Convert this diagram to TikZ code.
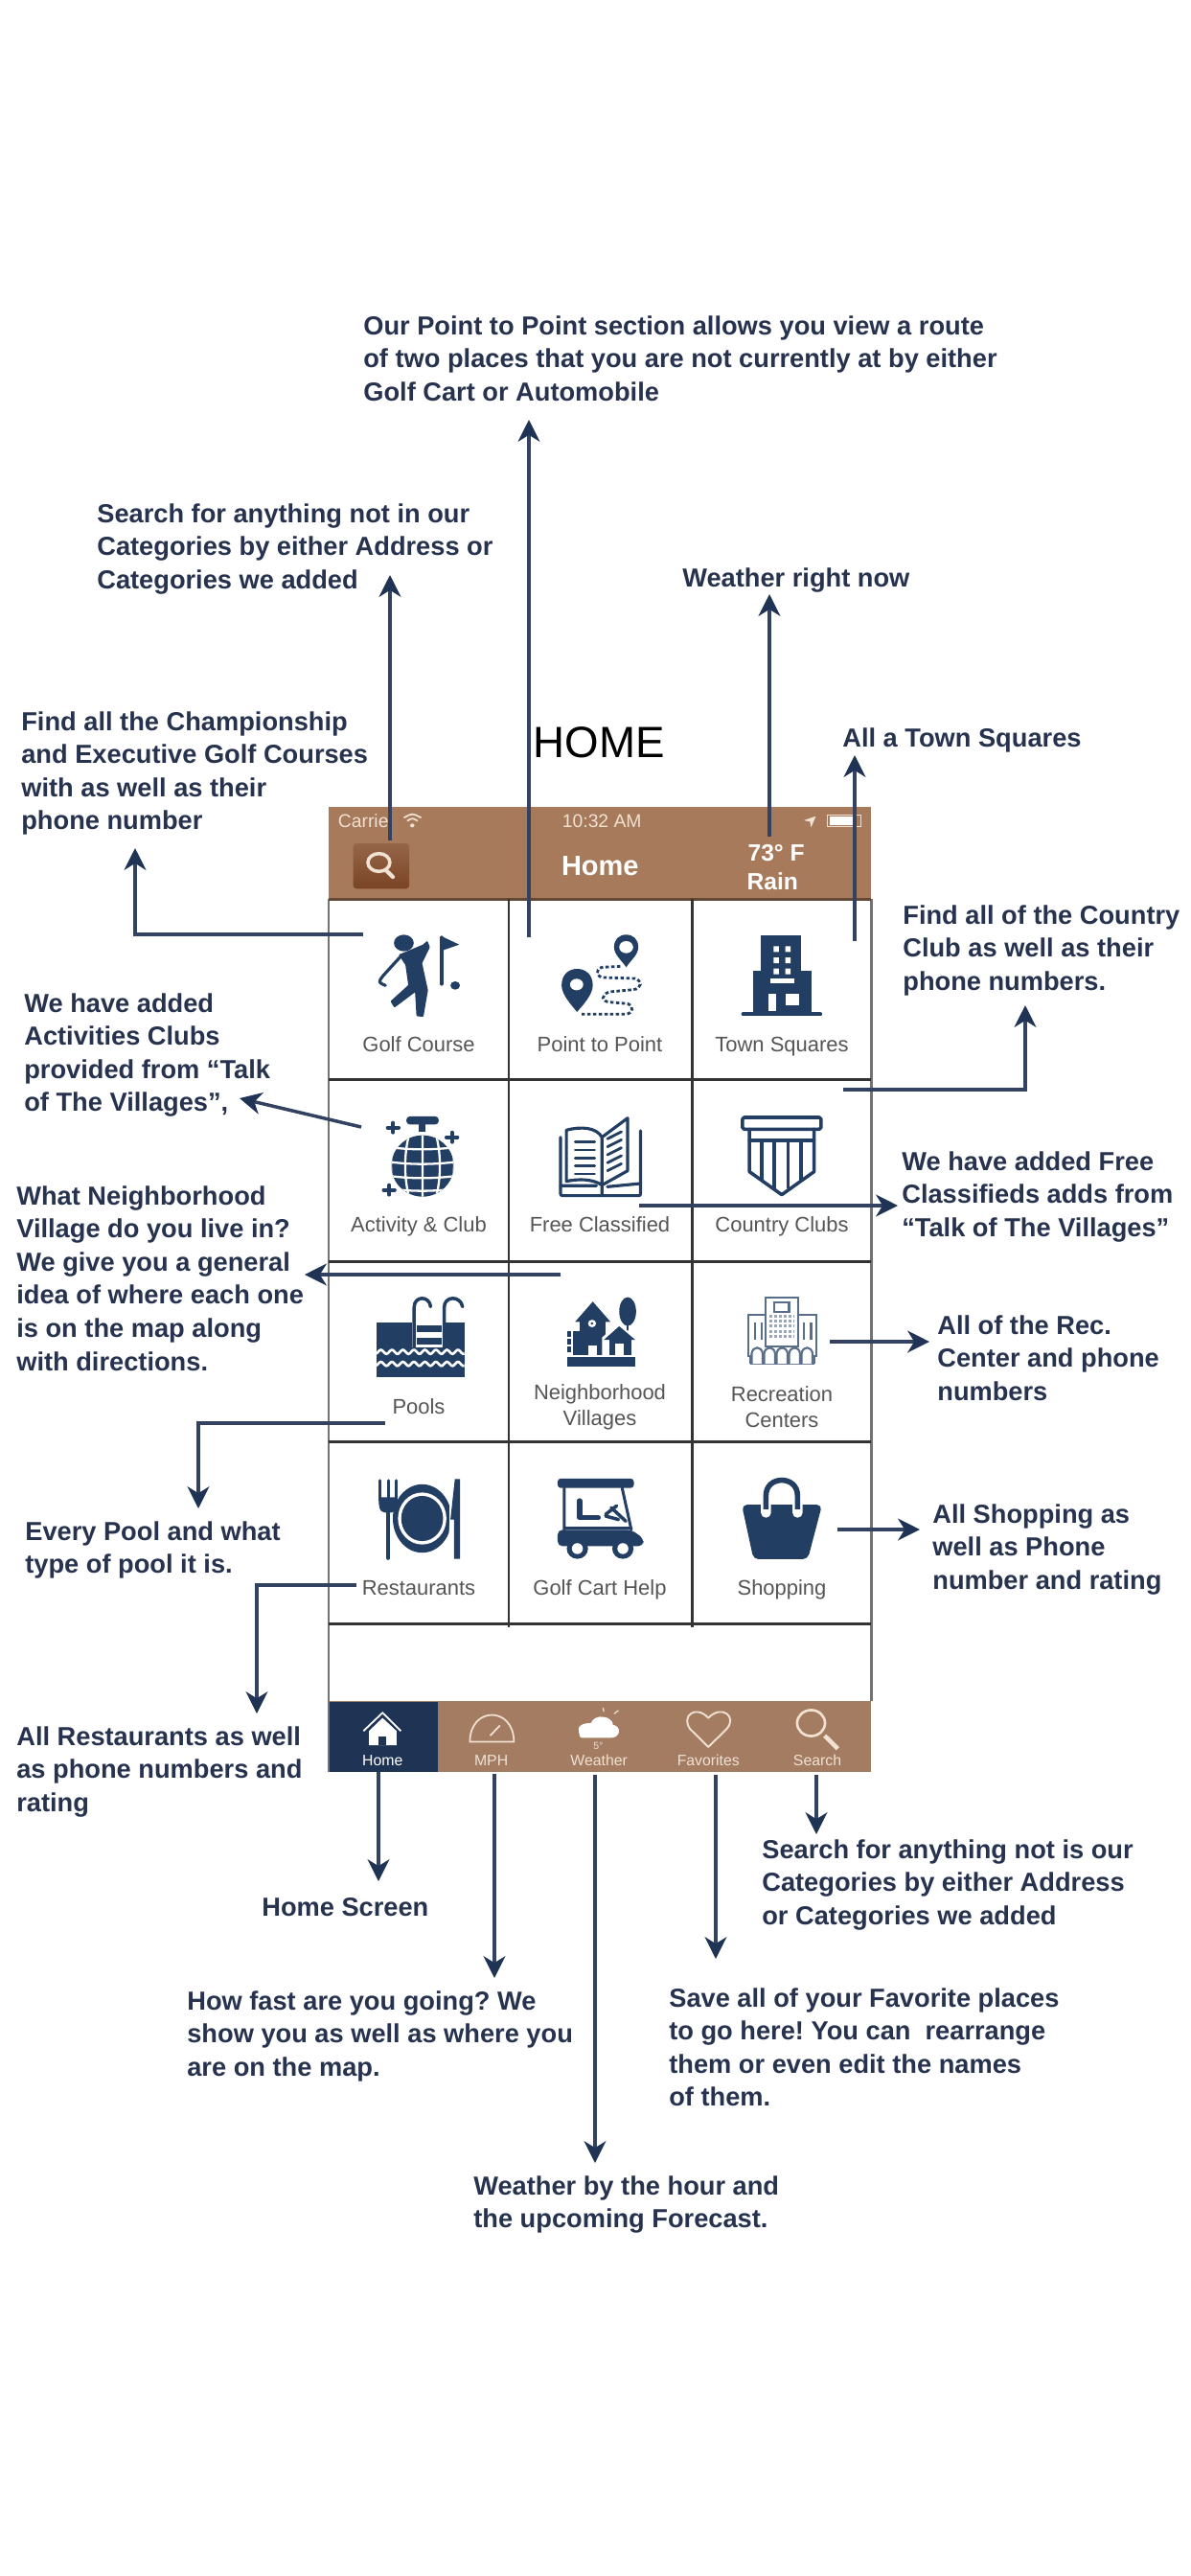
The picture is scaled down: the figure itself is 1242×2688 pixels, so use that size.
\documentclass[tikz,border=0pt]{standalone}
\usepackage{fontspec}
\setmainfont{Liberation Sans}
\usetikzlibrary{arrows.meta}
\definecolor{inkblue}{RGB}{31,51,84}
\definecolor{shaftblue}{RGB}{50,66,96}
\definecolor{iconblue}{RGB}{34,62,98}
\definecolor{notetext}{RGB}{38,50,78}
\definecolor{barbrown}{RGB}{166,122,90}
\definecolor{tabbrown}{RGB}{163,124,98}
\definecolor{buttontop}{RGB}{150,102,72}
\definecolor{buttonlow}{RGB}{122,68,38}
\definecolor{celllabel}{RGB}{85,85,85}
\definecolor{paletan}{RGB}{240,225,210}
\tikzset{
  pointer/.style={line width=2pt,draw=shaftblue,-{Stealth[length=13pt,width=13pt,inset=4pt,color=inkblue]}},
  note/.style={anchor=north west,inner sep=0pt,align=left,text=notetext,font=\bfseries\fontsize{15.5}{19.7}\selectfont},
  cellname/.style={inner sep=0pt,align=center,text=celllabel,font=\fontsize{12.5}{15.5}\selectfont},
  barname/.style={inner sep=0pt,text=white,font=\fontsize{#1}{#1}\selectfont},
  tabname/.style={inner sep=0pt,text=paletan,font=\fontsize{9}{9}\selectfont},
  gridline/.style={line width=1.7pt,draw=black!80},
  zoomtop/.style={shift={(320,820)},x=0.007654cm,y=-0.006667cm},
  zoomlow/.style={shift={(320,1300)},x=0.007654cm,y=-0.007143cm},
  iconline/.style={draw=iconblue,line width=#1,line cap=round,line join=round},
  iconline/.default=2pt
}
\begin{document}
\frenchspacing
\begin{tikzpicture}[x=0.02cm,y=-0.02cm]
\useasboundingbox (0,0) rectangle (1242,2688);
\fill[white] (0,0) rectangle (1242,2688);
% The phone
\fill[barbrown] (343,842) rectangle (909,938);
\fill[tabbrown] (343,1775) rectangle (909,1849);
\fill[inkblue] (343,1776) rectangle (457,1849);
\draw[line width=1.7pt,draw=black!55] (343,938) -- (343,1849) (909,938) -- (909,1775);
\draw[line width=1.7pt,draw=barbrown!60!black] (343,938) -- (909,938);
\foreach \rowy in {1126,1316,1504,1694}
  \draw[gridline] (343,\rowy) -- (909,\rowy);
\foreach \colx in {531,722}
  \draw[gridline] (\colx,938) -- (\colx,1698);
% Header
\begin{scope}[zoomtop]
\shade[top color=buttontop,bottom color=buttonlow,rounded corners=2pt] (127,180) rectangle (280,322);
\draw[paletan,line width=2pt] (197,240) circle[x radius=30,y radius=28];
\draw[paletan,line width=2.4pt,line cap=round] (216,264) -- (235,285);
\node[barname=11,text=paletan,anchor=west] (carrier) at (85,110) {Carrie};
\node[barname=11,text=paletan] (clock) at (805,110) {10:32 AM};
\node[barname=16,font=\bfseries\fontsize{16.5}{16.5}\selectfont] (homebar) at (800,250) {Home};
\node[barname=13.5,font=\bfseries\fontsize{14}{14}\selectfont] (temp) at (1280,210) {73° F};
\node[barname=13.5,font=\bfseries\fontsize{14}{14}\selectfont] (rain) at (1270,300) {Rain};
\draw[paletan,line width=1pt] (265,100) .. controls (288,85) .. (312,100) (274,110) .. controls (288,100) .. (303,110);
\fill[paletan] (288,124) circle[radius=6];
\fill[paletan] (1355,108) -- (1388,95) -- (1375,130) -- (1372,112) -- cycle;
\draw[paletan,line width=.8pt] (1420,92) rectangle (1510,128);
\fill[white] (1425,96) rectangle (1490,124);
\end{scope}
% Row one icons
\begin{scope}[zoomtop]
\fill[iconblue] (265,492) circle[x radius=27,y radius=26];
\filldraw[iconblue,line width=1.2pt,line join=round] (255,530) -- (318,500) -- (328,490) -- (333,505) -- (312,555) -- (328,640) -- (316,720) -- (302,718) -- (298,640) -- (240,690) -- (232,675) -- (280,625) -- (272,560) -- cycle;
\draw[iconline=1.8pt] (258,532) -- (208,595) .. controls (195,615) .. (215,625);
\draw[iconline=2.2pt] (368,475) -- (368,620);
\fill[iconblue] (366,470) -- (416,497) -- (366,517) -- cycle;
\fill[iconblue] (405,625) circle[radius=13];
% Point to point
\fill[iconblue] (695,625) .. controls (695,590) and (715,573) .. (737,573) .. controls (760,573) and (780,590) .. (780,625) .. controls (780,655) and (750,690) .. (737,708) .. controls (725,690) and (695,655) .. (695,625) -- cycle;
\fill[white] (736,622) circle[radius=18];
\fill[iconblue] (838,505) .. controls (838,480) and (852,466) .. (871,466) .. controls (890,466) and (904,480) .. (904,505) .. controls (904,530) and (880,550) .. (871,568) .. controls (862,550) and (838,530) .. (838,505) -- cycle;
\fill[white] (871,505) circle[radius=19];
\draw[iconblue,line width=1.6pt,dash pattern=on 2pt off 1.4pt] (855,565) -- (805,568) .. controls (785,575) and (790,600) .. (810,600) -- (895,603) .. controls (915,610) and (915,635) .. (890,638) -- (825,645) .. controls (800,655) and (805,675) .. (825,677) -- (875,682) .. controls (893,690) and (890,712) .. (870,715) -- (750,715);
% Town squares
\fill[iconblue] (1237,468) rectangle (1347,600);
\fill[iconblue] (1217,580) rectangle (1375,715);
\draw[iconline=2.4pt] (1190,715) -- (1400,715);
\foreach \winy in {502,537,572}
  \fill[white] (1273,\winy) rectangle (1287,\winy+18) (1305,\winy) rectangle (1319,\winy+18);
\fill[white] (1265,603) rectangle (1330,618);
\fill[white] (1258,650) rectangle (1280,705);
\fill[white] (1305,650) rectangle (1342,688);
\end{scope}
% Row two icons
\begin{scope}[zoomtop]
\fill[iconblue,rounded corners=2pt] (272,1035) rectangle (360,1060);
\fill[iconblue] (306,1060) rectangle (325,1082);
\begin{scope}
\clip (316,1190) circle[x radius=85,y radius=96];
\fill[iconblue] (230,1090) rectangle (402,1290);
\foreach \laty in {1132,1178,1222,1262}
  \draw[white,line width=1.3pt] (230,\laty) .. controls (290,\laty+8) and (340,\laty+8) .. (402,\laty);
\draw[white,line width=1.3pt] (316,1090) -- (316,1290) (280,1090) .. controls (265,1150) and (265,1230) .. (280,1290) (352,1090) .. controls (367,1150) and (367,1230) .. (352,1290);
\draw[white,line width=1.3pt] (245,1090) .. controls (225,1150) and (225,1230) .. (245,1290) (387,1090) .. controls (407,1150) and (407,1230) .. (387,1290);
\end{scope}
\foreach \spx/\spy in {236/1070,396/1100,225/1265}
  \draw[iconline=2.2pt] (\spx-15,\spy) -- (\spx+15,\spy) (\spx,\spy-15) -- (\spx,\spy+15);
% Free classified
\draw[iconline=1.8pt] (708,1078) .. controls (750,1065) and (790,1070) .. (805,1100) -- (805,1250) .. controls (780,1230) and (740,1230) .. (708,1238) -- cycle;
\draw[iconline=1.8pt] (805,1100) -- (875,1040) -- (875,1205) -- (805,1250);
\draw[iconline=1.8pt] (692,1100) -- (692,1270) .. controls (692,1283) .. (705,1283) -- (900,1283) .. controls (910,1283) .. (910,1270) -- (910,1080);
\draw[iconline=1.8pt] (692,1252) -- (790,1252) (805,1255) -- (805,1283) (820,1255) -- (910,1245);
\foreach \liney in {1115,1140,1165,1190,1215}
  \draw[iconline=1.6pt] (732,\liney) -- (785,\liney);
\foreach \liney in {1105,1130,1155,1180,1205}
  \draw[iconline=1.6pt] (820,\liney) -- (858,\liney-22);
% Country clubs
\draw[iconline=2pt,rounded corners=1pt] (1188,1038) rectangle (1402,1075);
\draw[iconline=2pt] (1207,1075) -- (1207,1208) -- (1295,1280) -- (1383,1208) -- (1383,1075);
\draw[iconline=2pt] (1207,1110) -- (1383,1110);
\foreach \fluteX/\fluteY in {1240/1232,1274/1258,1312/1258,1348/1232}
  \draw[iconline=2pt] (\fluteX,1110) -- (\fluteX,\fluteY);
\end{scope}
% Row three icons
\begin{scope}[zoomlow]
\fill[iconblue] (190,225) rectangle (430,385);
\fill[white] (288,222) rectangle (378,298);
\foreach \stepy in {232,268}
  \fill[iconblue] (300,\stepy) rectangle (368,\stepy+20);
\draw[iconline=2pt] (293,300) -- (293,180) .. controls (293,145) and (335,145) .. (338,178);
\draw[iconline=2pt] (375,300) -- (375,180) .. controls (375,145) and (420,145) .. (425,178);
\foreach \wavey in {310,345}
  \draw[white,line width=1.5pt] plot[domain=190:430,samples=61,smooth] (\x,{\wavey+6*sin(\x*12)});
% Neighborhood
\fill[iconblue] (710,325) rectangle (896,352);
\fill[iconblue] (732,222) -- (780,163) -- (828,222) -- cycle;
\fill[iconblue] (745,215) rectangle (815,318);
\fill[white] (778,227) circle[radius=11];
\fill[iconblue] (778,227) circle[radius=4];
\fill[iconblue] (725,250) rectangle (745,318);
\foreach \stepy in {250,272,294}
  \fill[iconblue] (710,\stepy) rectangle (722,\stepy+16);
\fill[white] (768,292) rectangle (792,318);
\fill[white] (805,268) -- (852,225) -- (900,268) -- (900,322) -- (805,322) -- cycle;
\fill[iconblue] (810,275) -- (852,235) -- (896,275) -- cycle;
\fill[iconblue] (825,270) rectangle (885,318);
\fill[white] (840,285) rectangle (864,318);
\fill[iconblue] (875,192) circle[x radius=23,y radius=42];
\draw[iconline=1.3pt] (875,225) -- (875,245);
% Recreation
\draw[iconblue!75,line width=1.2pt,fill=white] (1203,202) rectangle (1390,322);
\draw[iconblue!75,line width=1.2pt,fill=white] (1250,150) rectangle (1340,295);
\draw[iconblue!75,line width=1.2pt] (1275,165) rectangle (1315,192);
\foreach \gridy in {205,220,235,250,265}
  \draw[iconblue!45,line width=1.6pt,dash pattern=on 1.6pt off 1.2pt] (1262,\gridy) -- (1330,\gridy);
\foreach \sidex in {1222,1240,1355,1375}
  \draw[iconblue!75,line width=1.2pt] (\sidex,225) -- (\sidex,275);
\draw[iconblue!75,line width=1.2pt] (1208,345) -- (1384,345) (1208,322) -- (1208,345) (1384,322) -- (1384,345);
\foreach \archx in {1228,1262,1296,1330,1364}
  \draw[iconblue!75,line width=1.2pt,fill=white] (\archx-15,345) -- (\archx-15,315) .. controls (\archx-12,292) and (\archx+12,292) .. (\archx+15,315) -- (\archx+15,345);
\end{scope}
% Row four icons
\begin{scope}[zoomlow]
\foreach \tinex in {201,222,243}
  \draw[iconline=1.7pt] (\tinex,686) -- (\tinex,745);
\fill[iconblue] (197,735) -- (248,735) -- (248,755) .. controls (245,775) .. (230,780) -- (214,780) .. controls (200,775) .. (197,755) -- cycle;
\draw[iconline=2.6pt] (222,775) -- (222,912);
\fill[iconblue] (315,797) circle[x radius=80,y radius=100];
\fill[white] (315,797) circle[x radius=66,y radius=76];
\fill[iconblue] (315,797) circle[x radius=57,y radius=66];
\fill[white] (388,690) rectangle (400,905);
\fill[white] (390,798) -- (404,798) -- (404,905) -- (385,905) -- cycle;
\fill[iconblue] (404,682) -- (418,682) -- (418,915) -- (402,915) -- (402,800) -- (392,800) -- cycle;
% Golf cart
\fill[iconblue,rounded corners=2pt] (684,680) rectangle (892,708);
\draw[iconline=1.7pt] (702,708) -- (702,830) (860,708) -- (885,830) (702,825) -- (885,825);
\fill[iconblue,rounded corners=3pt] (684,830) -- (885,830) -- (918,855) -- (918,878) -- (684,878) -- cycle;
\foreach \wheelx in {738,862} {
  \fill[iconblue] (\wheelx,885) circle[x radius=29,y radius=30];
  \fill[white] (\wheelx,885) circle[x radius=15,y radius=16];
}
\draw[iconline=3pt] (744,745) -- (744,795) -- (795,795);
\draw[iconline=2pt] (815,785) -- (845,760) (830,765) -- (870,805) (815,790) -- (850,800);
% Shopping
\fill[iconblue,rounded corners=3pt] (1186,757) -- (1405,757) -- (1366,916) -- (1218,916) -- cycle;
\draw[white,line width=6pt,line cap=round] (1252,780) -- (1252,730) .. controls (1252,670) and (1338,670) .. (1338,730) -- (1338,780);
\draw[iconline=3.2pt,line cap=butt] (1252,770) -- (1252,730) .. controls (1252,670) and (1338,670) .. (1338,730) -- (1338,770);
\end{scope}
% Tab bar icons
\begin{scope}[zoomlow]
\draw[white,line width=1pt] (155,1418) -- (207,1365) -- (257,1418);
\fill[white] (207,1380) -- (245,1418) -- (245,1460) -- (170,1460) -- (170,1418) -- cycle;
\fill[inkblue] (195,1435) rectangle (218,1460);
\draw[paletan,line width=1pt] (445,1450) .. controls (445,1345) and (565,1345) .. (565,1450) -- cycle;
\draw[paletan,line width=1pt] (500,1432) -- (527,1402);
\fill[white] (742,1420) .. controls (735,1395) and (770,1395) .. (775,1395) .. controls (785,1365) and (835,1375) .. (835,1400) .. controls (860,1405) and (855,1438) .. (830,1438) -- (755,1438) .. controls (745,1438) .. (742,1420) -- cycle;
\draw[paletan,line width=.7pt] (838,1368) -- (850,1358) (810,1362) -- (808,1350);
\draw[paletan,line width=1.1pt,line join=round] (1095,1465) -- (1045,1412) .. controls (1020,1375) and (1060,1340) .. (1095,1380) .. controls (1130,1340) and (1175,1375) .. (1145,1412) -- cycle;
\draw[paletan,line width=1.5pt] (1375,1395) circle[x radius=38,y radius=38];
\draw[paletan,line width=2.6pt] (1412,1432) -- (1448,1470);
\node[tabname,text=white] (hometab) at (207,1505) {Home};
\node[tabname] (mphtab) at (503,1505) {MPH};
\node[tabname] (weathertab) at (797,1505) {Weather};
\node[tabname] (favoritestab) at (1095,1505) {Favorites};
\node[tabname] (searchtab) at (1392,1505) {Search};
\node[tabname,font=\fontsize{6}{6}\selectfont] (degrees) at (795,1463) {5°};
\end{scope}
% Cell names
\node[cellname,anchor=base] (golfname) at (437,1097) {Golf Course};
\node[cellname,anchor=base] (pointname) at (626,1097) {Point to Point};
\node[cellname,anchor=base] (townname) at (816,1097) {Town Squares};
\node[cellname,anchor=base] (activityname) at (437,1285) {Activity \& Club};
\node[cellname,anchor=base] (freename) at (626,1285) {Free Classified};
\node[cellname,anchor=base] (countryname) at (816,1285) {Country Clubs};
\node[cellname,anchor=base] (poolsname) at (437,1475) {Pools};
\node[cellname] (villagename) at (626,1468) {Neighborhood\\Villages};
\node[cellname] (recname) at (816,1468) {Recreation\\Centers};
\node[cellname,anchor=base] (restname) at (437,1664) {Restaurants};
\node[cellname,anchor=base] (cartname) at (626,1664) {Golf Cart Help};
\node[cellname,anchor=base] (shopname) at (816,1664) {Shopping};
% The notes
\node[note] (routenote) at (379,329) {Our Point to Point section allows you view a route\\of two places that you are not currently at by either\\Golf Cart or Automobile};
\node[note] (searchnote) at (101,525) {Search for anything not in our\\Categories by either Address or\\Categories we added};
\node[note] (weathernote) at (712,592) {Weather right now};
\node[note] (golfnote) at (22,742) {Find all the Championship\\and Executive Golf Courses\\with as well as their\\phone number};
\node[anchor=center,inner sep=0pt,font=\fontsize{26}{26}\selectfont] (hometitle) at (625,775) {HOME};
\node[note] (townnote) at (879,759) {All a Town Squares};
\node[note] (clubnote) at (942,944) {Find all of the Country\\Club as well as their\\phone numbers.};
\node[note] (activitynote) at (25,1036) {We have added\\Activities Clubs\\provided from “Talk\\of The Villages”,};
\node[note] (freenote) at (941,1201) {We have added Free\\Classifieds adds from\\“Talk of The Villages”};
\node[note] (villagenote) at (17,1237) {What Neighborhood\\Village do you live in?\\We give you a general\\idea of where each one\\is on the map along\\with directions.};
\node[note] (recnote) at (978,1372) {All of the Rec.\\Center and phone\\numbers};
\node[note] (poolnote) at (26,1587) {Every Pool and what\\type of pool it is.};
\node[note] (shopnote) at (973,1569) {All Shopping as\\well as Phone\\number and rating};
\node[note] (restnote) at (17,1801) {All Restaurants as well\\as phone numbers and\\rating};
\node[note] (homenote) at (273,1980) {Home Screen};
\node[note] (tabsearchnote) at (795,1919) {Search for anything not is our\\Categories by either Address\\or Categories we added};
\node[note] (mphnote) at (195,2077) {How fast are you going? We\\show you as well as where you\\are on the map.};
\node[note] (favnote) at (698,2074) {Save all of your Favorite places\\to go here! You can\ \ rearrange\\them or even edit the names\\of them.};
\node[note] (forecastnote) at (494,2270) {Weather by the hour and\\the upcoming Forecast.};
% Arrow ends
\coordinate (searchfrom) at (407,877);
\coordinate (searchtip) at (407,600);
\coordinate (routefrom) at (552,978);
\coordinate (routetip) at (552,438);
\coordinate (nowfrom) at (803,873);
\coordinate (nowtip) at (803,620);
\coordinate (townfrom) at (892,982);
\coordinate (towntip) at (892,788);
\coordinate (golffrom) at (379,975);
\coordinate (golftip) at (141,885);
\coordinate (activityfrom) at (377,1176);
\coordinate (activitytip) at (250,1146);
\coordinate (clubfrom) at (880,1137);
\coordinate (clubtip) at (1070,1049);
\coordinate (freefrom) at (667,1258);
\coordinate (freetip) at (937,1258);
\coordinate (villagefrom) at (585,1330);
\coordinate (villagetip) at (318,1330);
\coordinate (poolfrom) at (402,1485);
\coordinate (pooltip) at (207,1574);
\coordinate (recfrom) at (866,1400);
\coordinate (rectip) at (970,1400);
\coordinate (shopfrom) at (874,1596);
\coordinate (shoptip) at (960,1596);
\coordinate (restfrom) at (372,1654);
\coordinate (resttip) at (268,1788);
\coordinate (homefrom) at (395,1849);
\coordinate (hometip) at (395,1963);
\coordinate (mphfrom) at (516,1851);
\coordinate (mphtip) at (516,2064);
\coordinate (skyfrom) at (621,1852);
\coordinate (skytip) at (621,2257);
\coordinate (favfrom) at (747,1852);
\coordinate (favtip) at (747,2044);
\coordinate (lensfrom) at (852,1852);
\coordinate (lenstip) at (852,1914);
% The arrows
\foreach \arrowname in {search,route,now,town,activity,free,village,rec,shop,home,mph,sky,fav,lens}
  \draw[pointer] (\arrowname from) -- (\arrowname tip);
\draw[pointer] (golffrom) -| (golftip);
\draw[pointer] (clubfrom) -| (clubtip);
\draw[pointer] (poolfrom) -| (pooltip);
\draw[pointer] (restfrom) -| (resttip);
\end{tikzpicture}
\end{document}
